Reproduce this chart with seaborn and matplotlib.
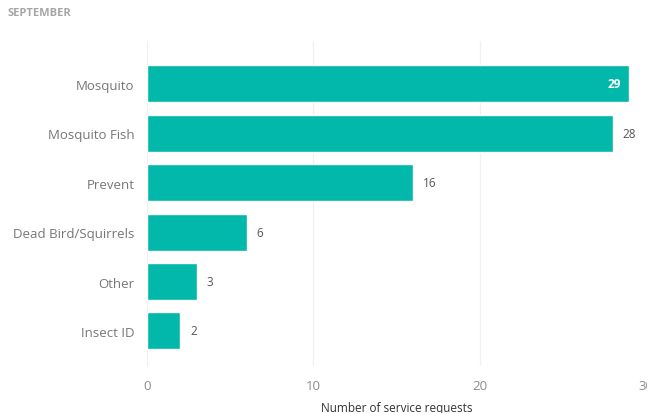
import seaborn as sns
import matplotlib.pyplot as plt
import pandas as pd

categories = ['Mosquito', 'Mosquito Fish', 'Prevent', 'Dead Bird/Squirrels', 'Other', 'Insect ID']
requests_count = [29, 28, 16, 6, 3, 2]
xticks = [0, 10, 20, 30]

df = pd.DataFrame({'Category': categories, 'Requests': requests_count})

sns.set_style('white')
plt.rcParams['font.family'] = ['Open Sans', 'DejaVu Sans']

fig = plt.figure(figsize=(6.47, 4.14), dpi=100)
ax = fig.add_axes([0.2272, 0.1135, 0.7713, 0.7851])

sns.barplot(data=df, x='Requests', y='Category', color='#01B8AA', saturation=1,
            width=0.75, ax=ax, zorder=3)

ax.set_xlim(0, 30)
ax.set_ylim(5.71, -0.87)
ax.set_xticks(xticks)
ax.grid(axis='x', color='#F0F0F0', linewidth=0.9, zorder=0)
ax.grid(axis='y', visible=False)
for s in ax.spines.values():
    s.set_visible(False)

ax.tick_params(axis='x', length=0, pad=9, labelsize=9.5, labelcolor='#8C8C8C')
ax.tick_params(axis='y', length=0, pad=9, labelsize=9.5, labelcolor='#777777')
ax.set_ylabel('')
ax.set_xlabel('Number of service requests', fontsize=8.5, color='#333333', labelpad=7)

for i, v in enumerate(requests_count):
    if v == max(requests_count):
        ax.text(v - 0.5, i, str(v), ha='right', va='center', color='white',
                fontsize=8.5, fontweight='bold')
    else:
        ax.text(v + 0.6, i, str(v), ha='left', va='center', color='#555555',
                fontsize=8.5)

fig.text(0.012, 0.967, 'SEPTEMBER', fontsize=8, color='#A6A6A6', fontweight='bold',
         ha='left', va='center')

fig.savefig('out.png', dpi=100)
